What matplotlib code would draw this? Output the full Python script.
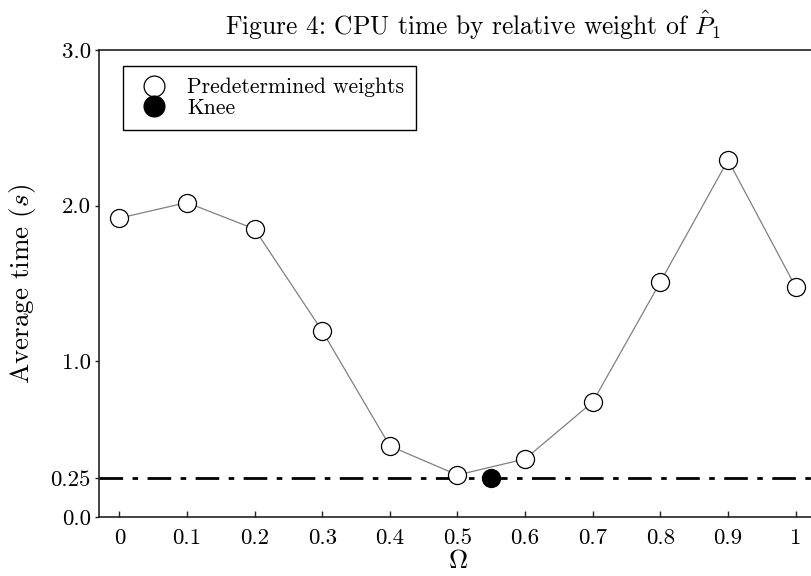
import matplotlib
matplotlib.use("Agg")
import matplotlib.pyplot as plt
from matplotlib.lines import Line2D

plt.rcParams["font.family"] = "serif"
plt.rcParams["font.serif"] = ["cmr10", "DejaVu Serif"]
plt.rcParams["mathtext.fontset"] = "cm"
plt.rcParams["axes.formatter.use_mathtext"] = True

# Relative weight of P1 and mean CPU time per setting
omega = [0.0, 0.1, 0.2, 0.3, 0.4, 0.5, 0.6, 0.7, 0.8, 0.9, 1.0]
avg_time = [1.92, 2.02, 1.85, 1.195, 0.456, 0.27, 0.373, 0.739, 1.51, 2.293, 1.478]

knee_omega = [0.55]
knee_time = [0.25]
threshold = 0.25

xticks = [0.0, 0.1, 0.2, 0.3, 0.4, 0.5, 0.6, 0.7, 0.8, 0.9, 1.0]
xtick_labels = ["0", "0.1", "0.2", "0.3", "0.4", "0.5", "0.6", "0.7", "0.8", "0.9", "1"]
yticks = [0.0, 0.25, 1.0, 2.0, 3.0]
ytick_labels = ["0.0", "0.25", "1.0", "2.0", "3.0"]

fig = plt.figure(figsize=(8.11, 5.76), dpi=100)
ax = fig.add_axes([0.1221, 0.1024, 0.884, 0.8108])

ax.axhline(threshold, color="black", lw=2.0,
           linestyle=(0, (8.5, 3.4, 2.0, 3.4)), zorder=1)
ax.plot(omega, avg_time, color="#808080", lw=0.9, zorder=2)
ax.plot(omega, avg_time, linestyle="none", marker="o", ms=13,
        mfc="white", mec="black", mew=0.9, zorder=3)
ax.plot(knee_omega, knee_time, linestyle="none", marker="o", ms=13,
        mfc="black", mec="black", mew=0.9, zorder=4)

ax.set_xlim(-0.03, 1.03)
ax.set_ylim(0, 3.0)
ax.set_xticks(xticks)
ax.set_xticklabels(xtick_labels)
ax.set_yticks(yticks)
ax.set_yticklabels(ytick_labels)
ax.tick_params(axis="x", direction="in", length=4.5, width=1.0,
               labelsize=16.5, pad=8, color="#222222")
ax.tick_params(axis="y", direction="out", length=3, width=1.0,
               labelsize=16.5, pad=3, color="#222222")
for side in ["left", "bottom", "top", "right"]:
    ax.spines[side].set_color("#222222")
    ax.spines[side].set_linewidth(1.2)

ax.set_xlabel(r"$\Omega$", fontsize=19, labelpad=1)
ax.set_ylabel(r"Average time $(s)$", fontsize=19.5, labelpad=9)

fig.text(0.584, 1 - 25 / 576, r"Figure 4: CPU time by relative weight of $\hat{P}_1$",
         ha="center", va="center", fontsize=18.4)

handles = [
    Line2D([], [], linestyle="none", marker="o", ms=15, mfc="white",
           mec="black", mew=0.9),
    Line2D([], [], linestyle="none", marker="o", ms=15, mfc="black",
           mec="black", mew=0.9),
]
leg = ax.legend(handles, ["Predetermined weights", "Knee"],
                loc="upper left", bbox_to_anchor=(0.0335, 0.9657),
                borderaxespad=0, fontsize=15.5, fancybox=False,
                framealpha=1, edgecolor="black", labelspacing=0.05,
                handlelength=1.75, handletextpad=0.67, borderpad=0.55)
leg.get_frame().set_linewidth(1.0)

fig.savefig("out.png", dpi=100)
